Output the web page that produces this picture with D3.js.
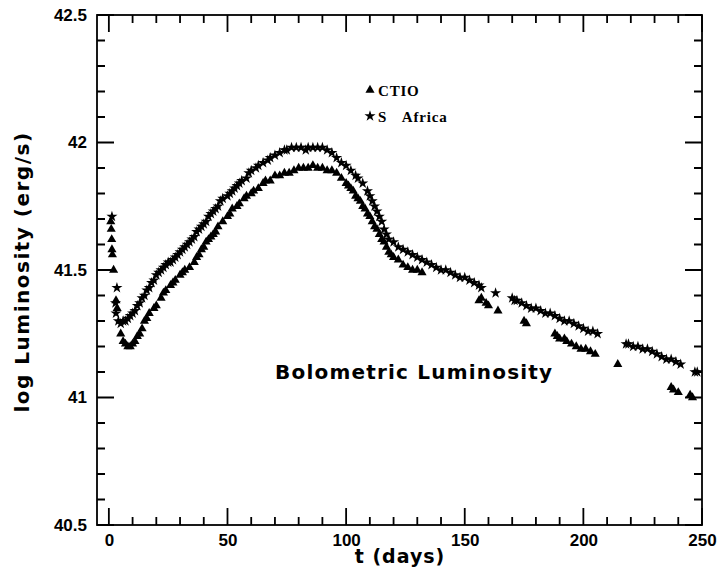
<!DOCTYPE html>
<html>
<head>
<meta charset="utf-8">
<script src="https://cdnjs.cloudflare.com/ajax/libs/d3/7.8.5/d3.min.js"></script>
<style>
  body { margin: 0; background: #fff; }
  text { font-family: "Liberation Sans", Arial, sans-serif; fill: #000; }
  .tick text { font-weight: bold; font-size: 17px; }
</style>
</head>
<body>
<div id="graph"></div>
<script>
var width = 722, height = 578

// t (days), log L
var ctio = [
  [0.8,41.69],[1.0,41.66],[1.2,41.62],[1.3,41.58],[1.5,41.56],[2.0,41.50],[3.0,41.38],[3.5,41.35],
  [5,41.25],[6,41.22],[7,41.21],[8,41.20],[9,41.20],[10,41.21],[11,41.22],[12,41.24],[13,41.25],
  [14,41.27],[15,41.30],[16,41.31],[17,41.33],[19,41.35],[20,41.36],[22,41.39],[23,41.41],[24,41.42],
  [26,41.44],[27,41.45],[28,41.46],[30,41.48],[31,41.49],[32,41.50],[34,41.51],[36,41.53],[37,41.55],
  [38,41.56],[39,41.58],[40,41.59],[41,41.61],[42,41.62],[43,41.63],[44,41.64],[45,41.65],[46,41.67],
  [48,41.69],[50,41.71],[51,41.72],[52,41.74],[54,41.75],[55,41.76],[57,41.78],[58,41.79],[60,41.80],
  [61,41.81],[63,41.82],[65,41.84],[66,41.85],[68,41.85],[70,41.87],[72,41.87],[74,41.88],[76,41.88],
  [78,41.89],[80,41.90],[82,41.90],[84,41.90],[86,41.91],[88,41.90],[90,41.90],[92,41.89],[94,41.89],
  [96,41.88],[98,41.86],[100,41.84],[101,41.83],[102,41.82],[103,41.81],[104,41.79],[105,41.78],
  [106,41.77],[107,41.75],[108,41.74],[109,41.72],[110,41.71],[111,41.69],[112,41.67],[113,41.66],
  [114,41.64],[115,41.62],[116,41.61],[117,41.59],[118,41.57],[119,41.56],[120,41.55],[122,41.54],
  [124,41.52],[126,41.51],[128,41.50],[130,41.50],[132,41.49],
  [156,41.38],[157,41.39],[159,41.37],[160,41.36],[164,41.34],[175,41.30],[176,41.29],
  [188,41.25],[189,41.24],[190,41.23],[192,41.23],[193,41.22],[195,41.21],[197,41.20],[199,41.19],
  [201,41.19],[203,41.18],[205,41.17],[214.5,41.13],[237,41.04],[238,41.03],[240,41.02],[245,41.01],[246,41.00]
]

var safrica = [
  [1.3,41.71],[2.8,41.37],[3.4,41.43],[3.0,41.33],[4,41.30],[5,41.29],[6,41.30],[7,41.30],[8,41.31],
  [9,41.32],[10,41.33],[11,41.34],[12,41.36],[13,41.37],[14,41.39],[15,41.40],[16,41.42],[17,41.43],
  [18,41.45],[19,41.46],[20,41.48],[21,41.49],[22,41.50],[23,41.51],[24,41.52],[25,41.53],[26,41.53],
  [27,41.54],[28,41.55],[29,41.56],[30,41.57],[31,41.58],[32,41.59],[33,41.60],[34,41.61],[35,41.62],
  [36,41.63],[37,41.65],[38,41.66],[39,41.67],[40,41.68],[41,41.69],[42,41.71],[43,41.72],[44,41.73],
  [45,41.74],[46,41.75],[47,41.77],[48,41.78],[50,41.79],[51,41.80],[52,41.81],[53,41.82],[54,41.83],
  [55,41.84],[56,41.85],[58,41.86],[59,41.88],[60,41.89],[62,41.90],[63,41.91],[65,41.92],[67,41.93],
  [68,41.94],[70,41.95],[72,41.96],[74,41.97],[75,41.97],[77,41.98],[79,41.98],[81,41.98],[83,41.97],
  [84,41.98],[86,41.98],[88,41.98],[90,41.98],[92,41.97],[94,41.96],[96,41.94],[98,41.92],[100,41.91],
  [102,41.89],[104,41.87],[105,41.86],[107,41.84],[109,41.81],[110,41.79],[111,41.77],[112,41.75],
  [113,41.73],[114,41.71],[115,41.69],[116,41.66],[117,41.64],[118,41.62],[120,41.61],[122,41.59],
  [124,41.58],[126,41.57],[128,41.56],[130,41.55],[132,41.54],[134,41.53],[136,41.52],[138,41.51],
  [140,41.50],[142,41.50],[144,41.49],[146,41.48],[148,41.47],[150,41.47],[152,41.46],[154,41.45],
  [156,41.44],[157,41.43],[163,41.41],[170,41.39],[171,41.38],[172,41.38],[174,41.37],[176,41.36],
  [178,41.35],[180,41.35],[182,41.34],[184,41.33],[186,41.33],[188,41.32],[190,41.31],[192,41.30],
  [194,41.30],[196,41.29],[198,41.28],[200,41.27],[202,41.26],[204,41.26],[206,41.25],[218,41.21],
  [219,41.21],[221,41.20],[223,41.20],[225,41.19],[227,41.19],[229,41.18],[231,41.17],[233,41.16],
  [235,41.15],[237,41.15],[239,41.14],[241,41.13],[247,41.10],[248,41.10]
]

var xMajor = [0, 50, 100, 150, 200, 250]
var xMinor = [10, 20, 30, 40, 60, 70, 80, 90, 110, 120, 130, 140, 160, 170, 180, 190, 210, 220, 230, 240]
var yMajor = [40.5, 41, 41.5, 42, 42.5]
var yMinor = [40.6, 40.7, 40.8, 40.9, 41.1, 41.2, 41.3, 41.4, 41.6, 41.7, 41.8, 41.9, 42.1, 42.2, 42.3, 42.4]

var x = d3.scaleLinear().domain([-5, 250]).range([97, 702])
var y = d3.scaleLinear().domain([40.5, 42.5]).range([525, 15])
var x0 = 97, x1 = 702, y0 = 525, y1 = 15

var svg = d3.select('#graph').append('svg')
    .attr('width', width).attr('height', height)

svg.append('rect').attr('width', width).attr('height', height).attr('fill', '#fff')

// tick labels from d3 axes
svg.append('g').attr('transform', 'translate(0,' + y0 + ')')
    .call(d3.axisBottom(x).tickValues(xMajor).tickSize(0).tickPadding(9).tickFormat(d3.format('d')))
    .call(function(g){ g.select('.domain').remove() })
svg.append('g').attr('transform', 'translate(' + x0 + ',0)')
    .call(d3.axisLeft(y).tickValues(yMajor).tickSize(0).tickPadding(10)
      .tickFormat(function(d){ return d % 1 ? d3.format('.1f')(d) : d3.format('d')(d) }))
    .call(function(g){ g.select('.domain').remove() })

svg.append('rect')
    .attr('x', x0).attr('y', y1).attr('width', x1 - x0).attr('height', y0 - y1)
    .attr('fill', 'none').attr('stroke', '#000').attr('stroke-width', 1.8)

// inward ticks on all four sides
var tk = svg.append('g')
function xTicks(vals, len){
  vals.forEach(function(t){
    tk.append('path').attr('d', 'M' + x(t) + ',' + y0 + 'V' + (y0 - len) + 'M' + x(t) + ',' + y1 + 'V' + (y1 + len))
      .attr('stroke', '#000').attr('stroke-width', 1.8).attr('fill', 'none')
  })
}
function yTicks(vals, len){
  vals.forEach(function(v){
    tk.append('path').attr('d', 'M' + x0 + ',' + y(v) + 'H' + (x0 + len) + 'M' + x1 + ',' + y(v) + 'H' + (x1 - len))
      .attr('stroke', '#000').attr('stroke-width', 1.8).attr('fill', 'none')
  })
}
xTicks(xMinor, 8); xTicks(xMajor, 17)
yTicks(yMinor, 8); yTicks(yMajor, 17)

var tri = d3.symbol().type(d3.symbolTriangle).size(36)
var star = d3.symbol().type(d3.symbolStar).size(38)

svg.append('g').selectAll('path').data(ctio).enter().append('path')
    .attr('d', tri)
    .attr('transform', function(d){ return 'translate(' + x(d[0]) + ',' + y(d[1]) + ')' })
    .attr('fill', '#000')

svg.append('g').selectAll('path').data(safrica).enter().append('path')
    .attr('d', star)
    .attr('transform', function(d){ return 'translate(' + x(d[0]) + ',' + y(d[1]) + ')' })
    .attr('fill', '#000')

// legend
var legend = [
  {label: 'CTIO', sym: tri, y: 90},
  {label: 'S Africa', sym: star, y: 116}
]
var lg = svg.append('g')
lg.selectAll('path').data(legend).enter().append('path')
    .attr('d', function(d){ return d.sym() })
    .attr('transform', function(d){ return 'translate(370,' + d.y + ')' })
lg.selectAll('text').data(legend).enter().append('text')
    .attr('x', 378).attr('y', function(d){ return d.y + 6 })
    .style('font-family', '"Liberation Serif", serif')
    .style('font-size', '15px').style('font-weight', 'bold')
    .style('word-spacing', '11px').style('letter-spacing', '0.8px')
    .text(function(d){ return d.label })

svg.append('text')
    .attr('x', 275).attr('y', 379)
    .style('font-family', '"DejaVu Sans", sans-serif')
    .style('font-size', '20px').style('font-weight', 'bold').style('letter-spacing', '1.2px')
    .text('Bolometric Luminosity')

svg.append('text')
    .attr('x', 400).attr('y', 563).attr('text-anchor', 'middle')
    .style('font-family', '"DejaVu Sans", sans-serif')
    .style('font-size', '19px').style('font-weight', 'bold').style('letter-spacing', '1px')
    .text('t (days)')

svg.append('text')
    .attr('transform', 'translate(29,272) rotate(-90)').attr('text-anchor', 'middle')
    .style('font-family', '"DejaVu Sans", sans-serif')
    .style('font-size', '20px').style('font-weight', 'bold').style('letter-spacing', '1.5px')
    .text('log Luminosity (erg/s)')
</script>
</body>
</html>
